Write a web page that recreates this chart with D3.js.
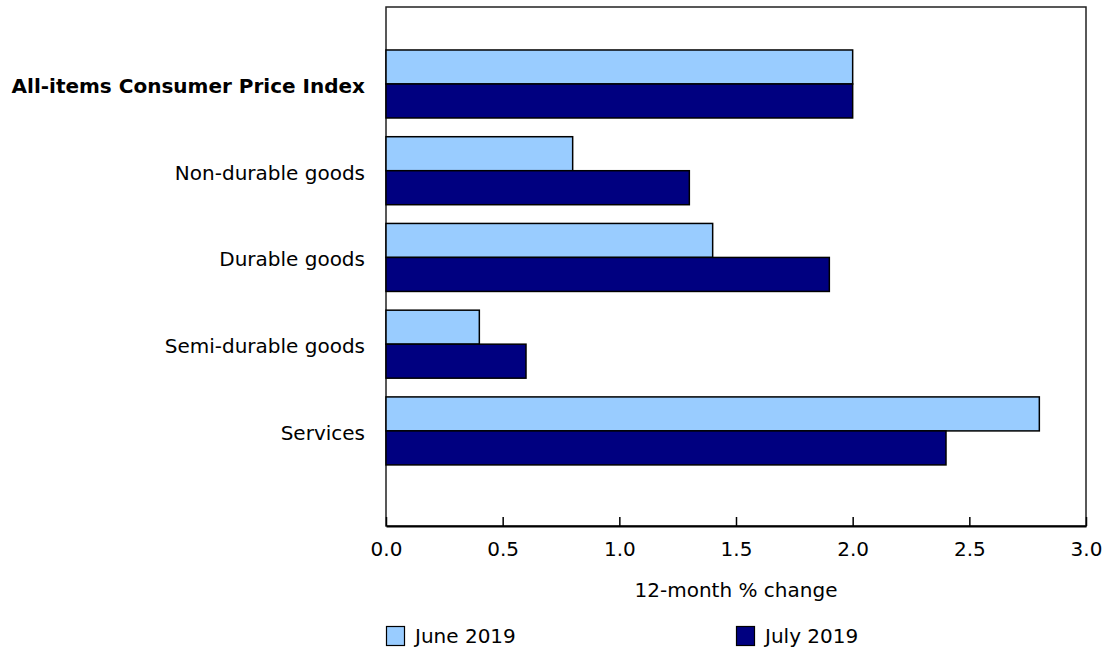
<!DOCTYPE html>
<html><head><meta charset="utf-8">
<script src="https://cdn.jsdelivr.net/npm/d3@7"></script>
<style>body{margin:0;background:#fff}svg{display:block;font-family:"DejaVu Sans",Verdana,sans-serif}</style>
</head><body>
<svg id="c" width="1105" height="651"></svg>
<script>
const categories = ["All-items Consumer Price Index","Non-durable goods","Durable goods","Semi-durable goods","Services"];
const june2019 = [2.0, 0.8, 1.4, 0.4, 2.8];
const july2019 = [2.0, 1.3, 1.9, 0.6, 2.4];
const seriesNames = ["June 2019","July 2019"];
const xTicks = [0,0.5,1.0,1.5,2.0,2.5,3.0];

const FS = 20;
const svg = d3.select("#c");
const L=386, R=1086, T=7, B=526;
const x = d3.scaleLinear().domain([0,3]).range([L,R]);
const y = d3.scaleBand().domain(categories).range([T,B]).paddingInner(0.216).paddingOuter(0.6).align(0.413);
const sub = d3.scaleBand().domain(seriesNames).range([0,y.bandwidth()]);
const colors = {"June 2019":"#99ccff","July 2019":"#000080"};

// frame
svg.append("rect").attr("x",L).attr("y",T).attr("width",R-L).attr("height",B-T)
  .attr("fill","none").attr("stroke","#222").attr("stroke-width",1.5);

const data = [];
categories.forEach((c,i)=>{
  data.push({c, s:"June 2019", v:june2019[i]});
  data.push({c, s:"July 2019", v:july2019[i]});
});
svg.append("g").selectAll("rect").data(data).join("rect")
  .attr("x",x(0)).attr("y",d=>y(d.c)+sub(d.s))
  .attr("width",d=>x(d.v)-x(0)).attr("height",sub.bandwidth())
  .attr("fill",d=>colors[d.s]).attr("stroke","#000").attr("stroke-width",1.5);

// x axis
const xa = svg.append("g").attr("transform",`translate(0,${B})`)
  .call(d3.axisBottom(x).tickValues(xTicks).tickFormat(d3.format(".1f")).tickSizeInner(-9).tickSizeOuter(0).tickPadding(16));
xa.select(".domain").attr("stroke","#000").attr("stroke-width",2);
xa.selectAll(".tick line").attr("stroke","#000").attr("stroke-width",1.5);
xa.selectAll("text").attr("font-size",FS).attr("fill","#000").attr("font-family","DejaVu Sans, Verdana, sans-serif");

// y labels
svg.append("g").selectAll("text").data(categories).join("text")
  .attr("x",365).attr("y",d=>y(d)+y.bandwidth()/2).attr("dy","0.45em")
  .attr("text-anchor","end").attr("font-size",FS).attr("fill","#000")
  .attr("font-weight",(d,i)=>i===0?"bold":"normal").text(d=>d);

// x title
svg.append("text").attr("x",(L+R)/2).attr("y",590).attr("dy","0.35em").attr("text-anchor","middle")
  .attr("font-size",FS).attr("fill","#000").text("12-month % change");

// legend
const lx = [386, 736];
seriesNames.forEach((s,i)=>{
  svg.append("rect").attr("x",lx[i]+0.5).attr("y",626.5).attr("width",18).attr("height",19)
    .attr("fill",colors[s]).attr("stroke","#000").attr("stroke-width",1.2);
  svg.append("text").attr("x",lx[i]+29).attr("y",636).attr("dy","0.35em").attr("font-size",FS).attr("fill","#000").text(s);
});
</script>
</body></html>
